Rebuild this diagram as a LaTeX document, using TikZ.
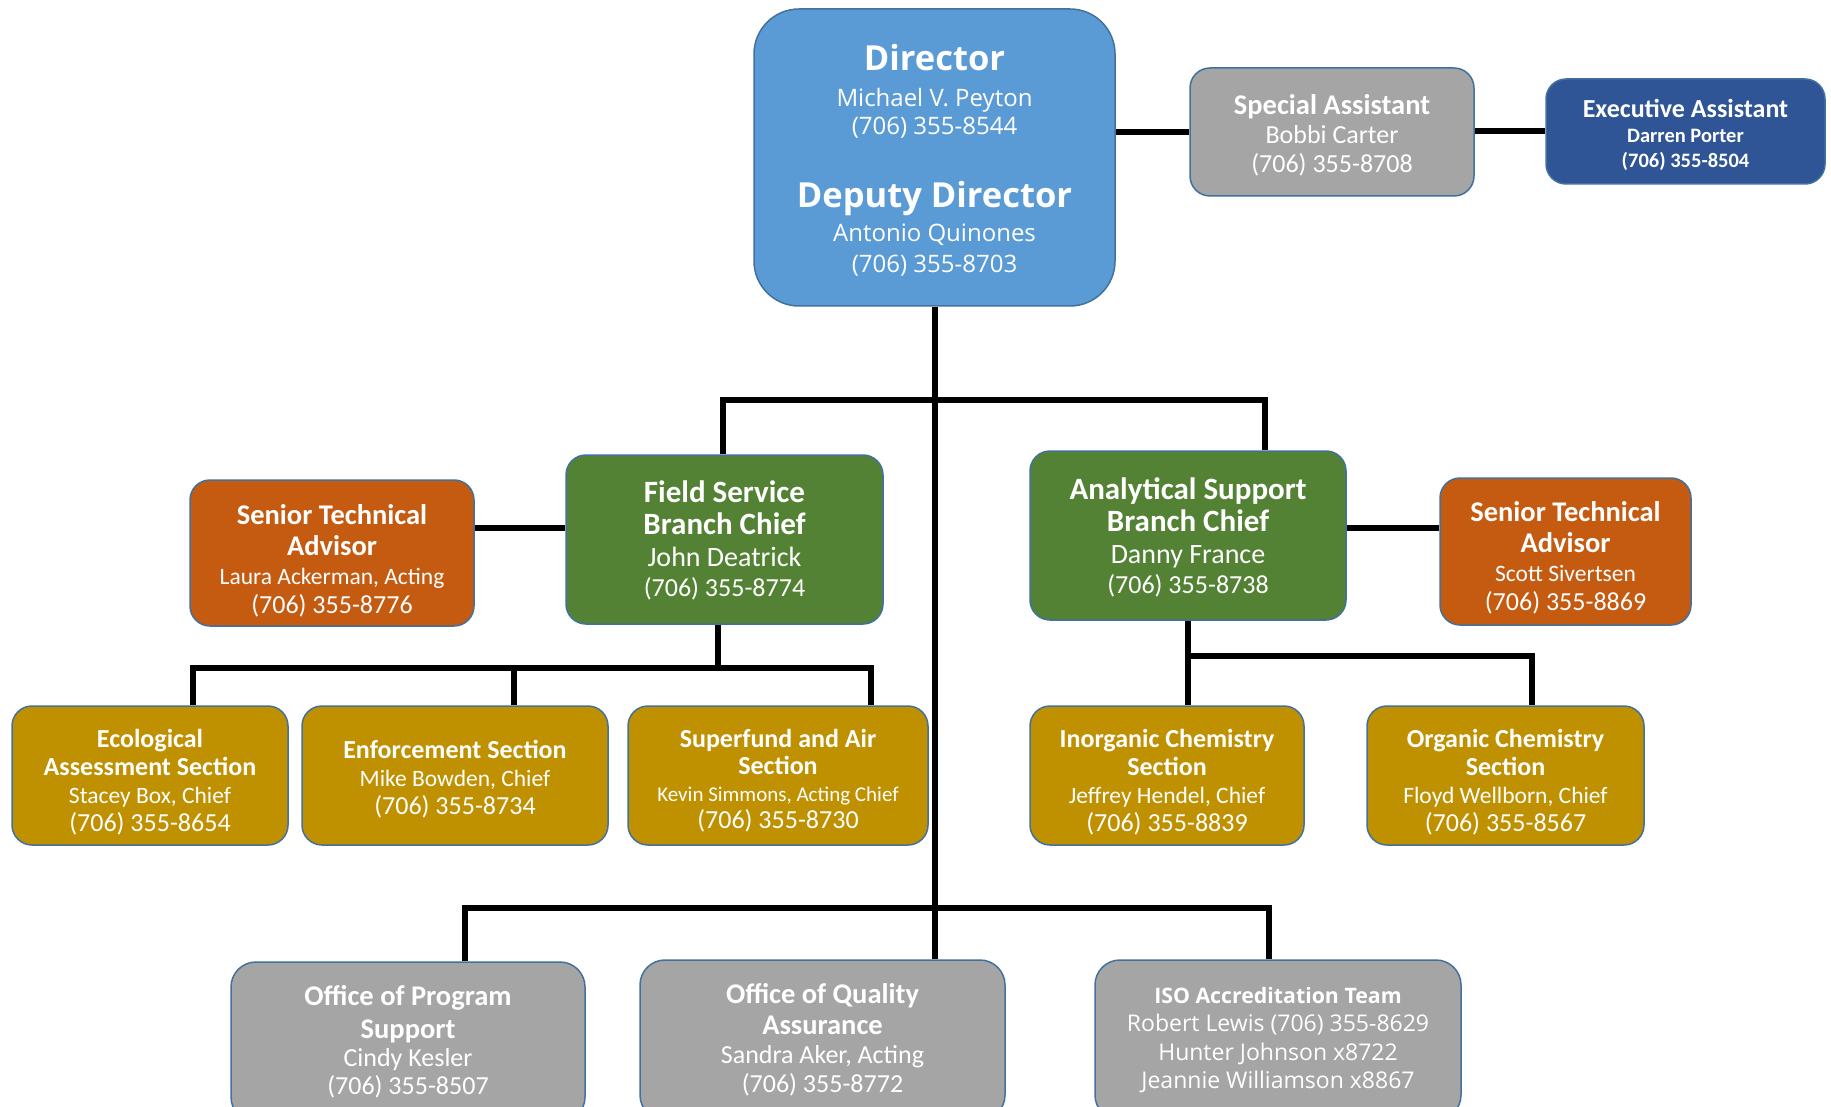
\documentclass[tikz,border=0pt]{standalone}
\usepackage{fontspec}
\setmainfont{Carlito}
\newfontfamily\opensans{Open Sans}
\usetikzlibrary{backgrounds}
\definecolor{dirblue}{HTML}{5B9BD5}
\definecolor{boxedge}{HTML}{41719C}
\definecolor{grayb}{HTML}{A5A5A5}
\definecolor{execblue}{HTML}{2F5597}
\definecolor{orangeb}{HTML}{C55A11}
\definecolor{greenb}{HTML}{548235}
\definecolor{goldb}{HTML}{BF9000}
\newcommand\fsz[2]{\fontsize{#1}{#2}\selectfont}
\newcommand\dn[2]{\raisebox{0pt}[\dimexpr\height+#1\relax]{#2}}
\tikzset{
  box/.style={draw=boxedge, line width=1.5pt, rounded corners=20pt, text=white, align=center, inner sep=0pt},
  conn/.style={line width=6pt, draw=black, line join=miter},
}
\begin{document}
\begin{tikzpicture}[x=1pt,y=-1pt]
\useasboundingbox (0,0) rectangle (1831,1107);
\clip (0,0) rectangle (1831,1107);

% top
\node[box, fill=dirblue, rounded corners=45pt, minimum width=361pt, minimum height=297pt, font=\opensans\fsz{24}{30}] (dir) at (934.5,157.5)
 {\dn{5pt}{\bfseries\fsz{34.5}{30}Director}\\[6pt] Michael V. Peyton\\[-2pt] (706) 355-8544\\[42pt] {\bfseries\fsz{34.5}{30}Deputy Director}\\[4pt] Antonio Quinones\\[1pt] (706) 355-8703};
\node[box, fill=grayb, minimum width=284pt, minimum height=128pt, font=\fsz{26}{29}] (spec) at (1332,132)
 {\dn{7pt}{\bfseries\fsz{28.5}{29}Special Assistant}\\Bobbi Carter\\(706) 355-8708};
\node[box, fill=execblue, minimum width=279pt, minimum height=105pt, font=\bfseries\fsz{20.5}{25}] (exec) at (1685.5,131.5)
 {\dn{6pt}{\fsz{26}{25}Executive Assistant}\\Darren Porter\\(706) 355-8504};

% branches
\node[box, fill=orangeb, minimum width=284pt, minimum height=146pt, font=\fsz{26}{29}] (sta1) at (332,553)
 {\dn{16pt}{\bfseries\fsz{28.5}{29}Senior Technical}\\[2pt]{\bfseries\fsz{28.5}{29}Advisor}\\{\fsz{23.5}{29}Laura Ackerman, Acting}\\(706) 355-8776};
\node[box, fill=greenb, minimum width=317pt, minimum height=169pt, font=\fsz{26}{32}] (fsb) at (724.5,539.5)
 {\dn{2pt}{\bfseries\fsz{31}{32}Field Service}\\{\bfseries\fsz{31}{32}Branch Chief}\\{\fsz{28}{32}John Deatrick}\\[-2pt](706) 355-8774};
\node[box, fill=greenb, minimum width=316pt, minimum height=169pt, font=\fsz{26}{32}] (asb) at (1188,535.5)
 {\dn{3pt}{\bfseries\fsz{31}{32}Analytical Support}\\{\bfseries\fsz{31}{32}Branch Chief}\\{\fsz{28}{32}Danny France}\\[-2pt](706) 355-8738};
\node[box, fill=orangeb, minimum width=251pt, minimum height=147pt, font=\fsz{26}{29}] (sta2) at (1565.5,551.5)
 {\dn{12pt}{\bfseries\fsz{28.5}{29}Senior Technical}\\[2pt]{\bfseries\fsz{28.5}{29}Advisor}\\{\fsz{23.5}{29}Scott Sivertsen}\\(706) 355-8869};

% sections
\node[box, fill=goldb, minimum width=276pt, minimum height=139pt, font=\fsz{26}{28}] (eco) at (150,775.5)
 {\dn{14pt}{\bfseries Ecological}\\{\bfseries Assessment Section}\\{\fsz{23.5}{28}Stacey Box, Chief}\\(706) 355-8654};
\node[box, fill=goldb, minimum width=306pt, minimum height=139pt, font=\fsz{26}{28}] (enf) at (455,775.5)
 {\dn{7pt}{\bfseries Enforcement Section}\\{\fsz{23.5}{28}Mike Bowden, Chief}\\(706) 355-8734};
\node[box, fill=goldb, minimum width=300pt, minimum height=139pt, font=\fsz{26}{27}] (sup) at (778,775.5)
 {\dn{10pt}{\bfseries Superfund and Air}\\{\bfseries Section}\\{\fsz{21}{27}Kevin Simmons, Acting Chief}\\(706) 355-8730};
\node[box, fill=goldb, minimum width=274pt, minimum height=139pt, font=\fsz{26}{28}] (ino) at (1167,775.5)
 {\dn{14pt}{\bfseries Inorganic Chemistry}\\{\bfseries Section}\\{\fsz{23.5}{28}Jeffrey Hendel, Chief}\\(706) 355-8839};
\node[box, fill=goldb, minimum width=277pt, minimum height=139pt, font=\fsz{26}{28}] (org) at (1505.5,775.5)
 {\dn{14pt}{\bfseries Organic Chemistry}\\{\bfseries Section}\\{\fsz{23.5}{28}Floyd Wellborn, Chief}\\(706) 355-8567};

% bottom
\node[box, fill=grayb, rounded corners=25pt, minimum width=354pt, minimum height=160pt, font=\fsz{26}{28}] (ops) at (408,1042)
 {{\bfseries\fsz{28.5}{28}Office of Program}\\[5pt]{\bfseries\fsz{28.5}{28}Support}\\Cindy Kesler\\(706) 355-8507};
\node[box, fill=grayb, rounded corners=25pt, minimum width=365pt, minimum height=160pt, font=\fsz{26}{29}] (oqa) at (822.5,1040)
 {{\bfseries\fsz{28.5}{29}Office of Quality}\\[2pt]{\bfseries\fsz{28.5}{29}Assurance}\\Sandra Aker, Acting\\(706) 355-8772};
\node[box, fill=grayb, rounded corners=25pt, minimum width=366pt, minimum height=160pt, font=\opensans\fsz{23}{28.5}] (iso) at (1278,1040)
 {{\bfseries\fsz{21.3}{28.5}ISO Accreditation Team}\\Robert Lewis (706) 355-8629\\Hunter Johnson x8722\\Jeannie Williamson x8867};

\begin{pgfonlayer}{background}
\fill[white] (0,0) rectangle (1831,1107);
\coordinate (bl) at (723,400);
\coordinate (br) at (1265,400);
\coordinate (la) at (0,528);
\coordinate (fd) at (718,668);
\coordinate (f1) at (193,668);
\coordinate (f2) at (514,668);
\coordinate (f3) at (871,668);
\coordinate (a1) at (1188,656);
\coordinate (a2) at (1532,656);
\coordinate (o1) at (465,908);
\coordinate (o2) at (1269,908);
\draw[conn] (dir.south) -- (dir.south |- oqa.north);
\draw[conn] (spec.west) -- (spec.west -| dir.east);
\draw[conn] (exec.west -| spec.east) -- (exec.west);
\draw[conn] (bl |- fsb.north) -- (bl) -- (br) -- (br |- asb.north);
\draw[conn] (sta1.east |- la) -- (fsb.west |- la);
\draw[conn] (asb.east |- la) -- (sta2.west |- la);
\draw[conn] (fd |- fsb.south) -- (fd);
\draw[conn] (f1 |- eco.north) -- (f1) -- (f3) -- (f3 |- sup.north);
\draw[conn] (f2) -- (f2 |- enf.north);
\draw[conn] (a1 |- asb.south) -- (a1 |- ino.north);
\draw[conn] (a1) -- (a2) -- (a2 |- org.north);
\draw[conn] (o1 |- ops.north) -- (o1) -- (o2) -- (o2 |- iso.north);
\end{pgfonlayer}
\end{tikzpicture}
\end{document}
